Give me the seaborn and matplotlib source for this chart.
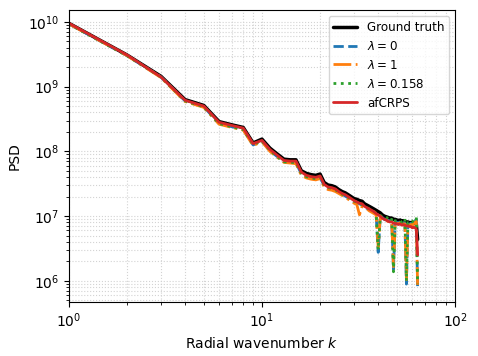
import numpy as np
import pandas as pd
import seaborn as sns
import matplotlib.pyplot as plt

# radial wavenumbers
k = list(range(1, 65))

# log10(PSD), k = 1..64
log_truth = [9.98, 9.49, 9.16, 8.80, 8.71, 8.46, 8.41, 8.37, 8.13, 8.19,
             8.05, 7.96, 7.88, 7.87, 7.87, 7.70, 7.66, 7.64, 7.63, 7.65,
             7.52, 7.48, 7.47, 7.45, 7.41, 7.38, 7.36, 7.33, 7.30, 7.27,
             7.26, 7.24, 7.23, 7.19, 7.17, 7.15, 7.13, 7.11, 7.09, 7.07,
             7.05, 7.02, 7.00, 6.99, 6.98, 6.97, 6.97, 6.95, 6.95, 6.94,
             6.93, 6.94, 6.92, 6.93, 6.92, 6.91, 6.91, 6.90, 6.90, 6.89,
             6.90, 6.89, 6.88, 6.64]
log_lam0 = [9.97, 9.48, 9.15, 8.78, 8.69, 8.43, 8.38, 8.34, 8.10, 8.16,
            8.01, 7.92, 7.84, 7.83, 7.83, 7.65, 7.61, 7.59, 7.58, 7.60,
            7.47, 7.43, 7.42, 7.40, 7.36, 7.34, 7.31, 7.28, 7.25, 7.22,
            7.21, 7.19, 7.17, 7.14, 7.12, 7.10, 7.08, 7.06, 7.04, 6.44,
            7.00, 6.98, 6.95, 6.94, 6.93, 6.92, 6.93, 6.18, 6.92, 6.90,
            6.90, 6.91, 6.88, 6.90, 6.89, 5.95, 6.88, 6.87, 6.89, 6.87,
            6.90, 6.92, 6.95, 5.88]
log_lam1 = [9.97, 9.48, 9.14, 8.77, 8.68, 8.42, 8.37, 8.33, 8.09, 8.15,
            8.00, 7.91, 7.83, 7.82, 7.81, 7.63, 7.59, 7.57, 7.56, 7.58,
            7.45, 7.41, 7.40, 7.38, 7.35, 7.32, 7.29, 7.26, 7.23, 7.20,
            7.18, 7.02, 7.15, 7.12, 7.11, 7.08, 7.06, 7.04, 7.02, 6.52,
            6.99, 6.96, 6.94, 6.93, 6.92, 6.91, 6.90, 6.22, 6.90, 6.89,
            6.88, 6.90, 6.87, 6.88, 6.88, 6.02, 6.87, 6.86, 6.87, 6.86,
            6.88, 6.90, 6.92, 5.90]
log_lam158 = [9.97, 9.48, 9.15, 8.78, 8.69, 8.43, 8.38, 8.34, 8.11, 8.16,
              8.02, 7.92, 7.84, 7.83, 7.83, 7.66, 7.61, 7.59, 7.58, 7.61,
              7.48, 7.44, 7.43, 7.41, 7.37, 7.34, 7.32, 7.29, 7.26, 7.23,
              7.22, 7.20, 7.18, 7.15, 7.13, 7.11, 7.09, 7.07, 7.05, 6.48,
              7.01, 6.99, 6.97, 6.96, 6.99, 6.94, 6.95, 6.14, 6.93, 6.92,
              6.92, 6.93, 6.90, 6.93, 6.96, 6.00, 6.90, 6.89, 6.92, 6.91,
              6.95, 6.98, 6.98, 5.95]
log_afcrps = [9.98, 9.49, 9.15, 8.79, 8.70, 8.45, 8.40, 8.36, 8.12, 8.17,
              8.03, 7.94, 7.86, 7.85, 7.85, 7.68, 7.63, 7.61, 7.60, 7.62,
              7.49, 7.45, 7.44, 7.42, 7.38, 7.35, 7.33, 7.30, 7.27, 7.24,
              7.22, 7.20, 7.19, 7.15, 7.13, 7.11, 7.09, 7.07, 7.04, 7.02,
              7.00, 6.97, 6.95, 6.94, 6.92, 6.91, 6.91, 6.89, 6.89, 6.88,
              6.87, 6.88, 6.86, 6.87, 6.86, 6.85, 6.85, 6.84, 6.84, 6.82,
              6.83, 6.82, 6.80, 6.40]

series = [
    ("Ground truth", log_truth, "black", "-", 2.5),
    (r"$\lambda=0$", log_lam0, "#1f77b4", "--", 2),
    (r"$\lambda=1$", log_lam1, "#ff7f0e", "-.", 2),
    (r"$\lambda=0.158$", log_lam158, "#2ca02c", ":", 2),
    ("afCRPS", log_afcrps, "#d62728", "-", 2),
]

sns.set_style("ticks")
plt.rcParams['font.family'] = ['DejaVu Sans']
plt.rcParams['text.color'] = 'black'
plt.rcParams['axes.labelcolor'] = 'black'
plt.rcParams['xtick.color'] = 'black'
plt.rcParams['ytick.color'] = 'black'

fig, ax = plt.subplots(figsize=(4.78, 3.56), dpi=100)
fig.subplots_adjust(left=0.144, right=0.952, bottom=0.152, top=0.972)

for name, vals, col, ls, lw in series:
    df = pd.DataFrame({"k": k, "psd": np.power(10.0, vals)})
    sns.lineplot(data=df, x="k", y="psd", ax=ax, color=col, linestyle=ls,
                 linewidth=lw, label=name)

ax.set_xscale("log")
ax.set_yscale("log")
ax.set_xlim(1, 100)
ax.grid(True, which="both", linestyle=":", color="#d3d3d3", linewidth=0.8)
ax.set_xlabel("Radial wavenumber $k$")
ax.set_ylabel("PSD")
ax.legend(loc="upper right", fontsize=8.6)
for s in ax.spines.values():
    s.set_color("black")

fig.savefig("out.png", dpi=100)
